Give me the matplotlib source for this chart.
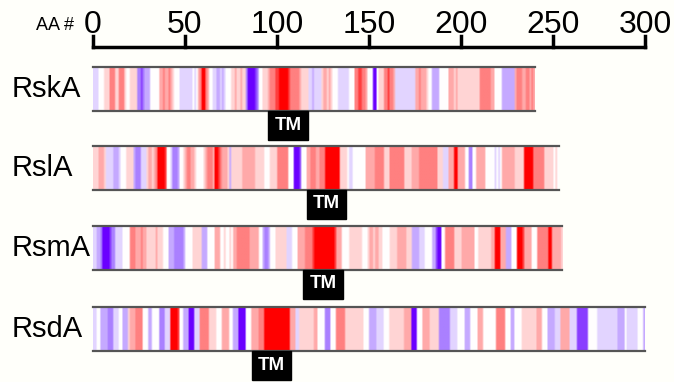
import numpy as np
import matplotlib.pyplot as plt
from matplotlib.colors import LinearSegmentedColormap

plt.rcParams['font.family'] = ['Liberation Sans', 'DejaVu Sans']

# per-residue hydropathy level, -5 (hydrophilic, purple) .. 5 (hydrophobic, red)
rska = [-1, -1, -1, 0, 0, 0, 1, 1, 1, 3, 3, 3, 1, 1, 3, 3, 3, 1, 0, 0,
        1, 1, 1, 1, -3, -3, -4, -3, -2, -2, -2, 0, 0, 0, 0, 0, 2, 2, 3, 2,
        2, 3, 2, 1, 0, 0, 0, -1, -1, -1, -1, -1, -1, -1, 0, -1, 0, 2, 3, 5,
        5, 3, 2, 0, 0, -1, -1, -2, -2, -1, -2, -1, 0, 0, 0, 1, 1, 2, 1, 1,
        2, 1, 1, -3, -5, -5, -5, -5, -4, -3, 0, 0, 1, 1, 1, 2, 3, 3, 3, 4,
        4, 5, 5, 5, 5, 5, 4, 3, 3, 3, 3, 3, 2, 1, 1, 1, 1, -1, -1, -2,
        -1, -1, -1, -1, 1, 2, 2, 1, 2, 1, 0, 0, 0, -1, -1, -1, -1, -1, -1, 0,
        0, 0, 3, 3, 4, 4, 3, 3, 2, 0, 0, 0, -5, -5, 0, 1, 1, 1, 3, 3,
        4, 3, 3, 2, -1, -1, -1, -1, -1, -1, -1, -1, -1, -1, -1, 2, 2, 3, 2, 2,
        2, 1, 0, 0, -2, -2, -2, -2, 0, 0, 0, 0, 0, 2, 2, 2, 1, 2, 1, 1,
        1, 1, 1, 1, 1, 1, 1, 1, 1, 1, 3, 3, 3, 3, 3, 3, 2, 2, 0, 0,
        0, 0, -2, -2, -2, -2, -2, -2, -2, 2, 3, 3, 3, 2, 2, 3, 3, 2, 3, 2]

rsla = [1, 1, 1, 2, 2, 2, 1, -1, -1, -1, -1, -2, -2, -2, -1, 0, 0, 0, 1, 1,
        1, 1, -2, -3, -3, -3, -1, -1, -1, 1, 2, 2, 1, 2, 3, 5, 5, 5, 5, 4,
        0, 0, -1, -3, -3, -3, -2, 0, 0, 1, 2, 3, 3, 2, 2, 1, 0, 0, 0, 0,
        1, 2, 3, 3, 3, 2, 5, 5, 4, 3, 2, 2, 2, 1, -2, 1, 1, 1, 1, 1,
        1, 2, 2, 2, 2, 2, 2, 2, 1, 1, 1, 1, 1, 0, 0, 0, 1, 1, 1, 1,
        3, 3, 3, 3, 3, 3, 0, 0, 0, -5, -5, -5, -4, 0, 0, 0, 2, 2, 3, 3,
        3, 2, 2, 3, 3, 3, 5, 5, 5, 5, 5, 5, 5, 5, 1, 1, 1, 1, 0, -1,
        -1, 0, 0, 0, 0, 0, 0, 0, 2, 2, 2, 2, 2, 3, 3, 3, 3, 3, 1, 1,
        1, 3, 3, 3, 3, 3, 3, 3, 3, 1, 1, 1, 1, 2, 2, 2, 2, 3, 3, 3,
        3, 3, 3, 3, 3, 3, 3, 1, 1, 1, -1, -1, -1, 2, 2, 2, 5, 5, 2, 2,
        2, 2, 0, 0, -3, -3, 0, 0, 2, 2, 2, 2, 2, 0, 0, 0, 0, 0, -1, 0,
        -1, 0, 2, 2, 2, 2, 2, 2, 2, 1, 1, 1, 1, 1, 5, 5, 5, 5, 5, 3,
        3, 3, 3, 3, 3, 1, 1, 1, 1, 1, 0, 1, 0]

rsma = [-1, -1, -2, -2, -3, -5, -5, -5, -5, -4, -3, -3, -1, -1, -1, -1, 0, 0, 0, 0,
        3, 3, 3, 2, 2, 2, 3, 2, 2, 1, 1, 1, 1, 1, 2, 1, 1, 1, 0, 0,
        0, -2, -2, -2, -3, -3, -3, -3, -3, -2, 0, 0, 0, 0, 1, 1, 1, 1, 1, -2,
        -2, -2, 0, 0, 0, 0, 2, 2, 2, 0, 0, 1, 0, 0, 1, 0, 2, 2, 3, 3,
        3, 3, 3, 3, 3, 2, 2, 2, 2, 2, 0, 0, -2, -3, -3, -2, 0, 0, 0, 1,
        1, 1, 1, 1, 1, -1, -1, -1, 0, 0, 0, 2, 2, 2, 2, 3, 3, 3, 3, 4,
        5, 5, 5, 5, 5, 5, 5, 5, 5, 5, 5, 4, 2, 2, 2, 0, 0, 0, 0, 1,
        1, 1, 1, 1, 1, 1, 0, 0, 0, 1, 2, 2, 1, 2, 2, 1, 1, 0, 0, 0,
        0, 1, 1, 1, 1, 2, 2, 2, 2, 2, 1, 1, 1, -2, -2, -2, -2, -1, -1, -1,
        0, 0, 0, 0, -2, -2, -4, -5, -5, 0, 0, 3, 3, 3, 3, 3, 1, 1, 1, 1,
        2, 2, 2, 2, 2, 2, 2, 0, 0, 1, 1, 1, 1, 1, 1, 1, 2, 2, 5, 5,
        5, 2, 2, 2, -2, -2, -2, 0, 0, 0, 5, 5, 5, 4, 2, 2, 2, 2, 0, 0,
        0, 3, 3, 3, 3, 3, 3, 5, 5, 2, 2, 2, 2, 2, 1]

rsda = [-1, -1, 0, 0, -2, -2, -2, -2, -3, -3, -3, -1, -1, -1, 0, 0, -2, -2, -2, 1,
        2, 2, 2, 3, 3, 3, 3, 0, 0, 0, -2, -2, 0, 0, 0, 0, -3, -3, -3, -1,
        -1, -1, 5, 5, 5, 5, 4, 0, 0, -2, -2, -2, -5, -5, -5, -1, -1, -1, 3, 3,
        3, 3, 3, 1, 1, 1, 1, 0, 0, 0, 2, 2, 2, 2, 0, 0, -2, -2, -2, -5,
        -5, -5, -5, 0, 0, 0, 2, 2, 2, 2, 3, 3, 3, 5, 5, 5, 5, 5, 5, 5,
        5, 5, 5, 5, 5, 5, 5, 2, 2, 2, -1, -1, 1, 1, 1, 1, 1, 1, 1, 1,
        2, 2, 0, 0, 0, 0, -3, -3, -3, 0, 0, 0, 3, 3, 3, 3, 3, 1, 1, 1,
        1, 1, 1, 1, 1, 1, 1, 0, 0, 0, -2, -2, -2, -2, -1, -1, -1, -1, 0, 0,
        0, 1, 1, 1, 1, 1, 1, 1, 1, 2, 2, 2, 2, -5, -5, -5, 0, 0, 0, 2,
        2, 2, 2, 1, 1, 1, 1, 1, -3, -3, -3, -3, -3, -3, -1, -1, -1, -1, 0, 0,
        0, 0, -2, -2, -2, 0, 0, 0, 0, 2, 2, 2, 0, 0, 0, 0, 0, 0, 0, 3,
        3, 3, 3, 3, 0, 0, 0, -2, -2, 0, 0, 0, 0, 1, 1, 1, 1, 1, 1, 1,
        1, 2, 2, 2, 0, 0, 0, -2, -2, -2, -2, -1, -1, -1, 2, 2, 2, 2, 2, -1,
        -1, -1, -1, -4, -4, -4, -4, -4, -4, 0, 0, 0, 0, 0, -1, -1, -1, -1, -1, -1,
        -1, -1, -1, -1, -1, -2, -2, -2, -2, 0, -1, -1, -1, -1, -1, -1, 0, 0, 0, -2]

names = ['RskA', 'RslA', 'RsmA', 'RsdA']
profiles = [rska, rsla, rsma, rsda]
tm_centers = [106, 127, 125, 97]
ticks = [0, 50, 100, 150, 200, 250, 300]

# pixel layout (y measured from top)
px = 1.84
x0 = 93
strip_tops = [67, 146, 226, 307]
strip_h = 44

cmap = LinearSegmentedColormap.from_list(
    'hyd', [(0.0, '#6a00ff'), (0.2, '#aa80ff'), (0.5, '#ffffff'),
            (0.8, '#ff8080'), (1.0, '#ff0000')])
bg = '#fffffa'

fig = plt.figure(figsize=(6.74, 3.82), dpi=100)
fig.patch.set_facecolor(bg)
ax = fig.add_axes([0, 0, 1, 1])
ax.set_facecolor(bg)

for name, prof, tm, top in zip(names, profiles, tm_centers, strip_tops):
    row = np.array(prof, dtype=float) / 5.0
    vals = np.vstack([row, row, row])
    n = len(prof)
    bot = top + strip_h
    ax.imshow(vals, cmap=cmap, vmin=-1, vmax=1, aspect='auto',
              interpolation='bilinear', interpolation_stage='rgba',
              extent=(0, n, bot, top))
    ax.plot([0, n], [top, top], color='#555555', lw=1.6)
    ax.plot([0, n], [bot, bot], color='#555555', lw=1.6)
    ax.text((12 - x0) / px, top + strip_h / 2, name, fontsize=21,
            ha='left', va='center')
    ax.text(tm, bot + 14, 'TM', fontsize=13.5, fontweight='bold', color='white',
            ha='center', va='center',
            bbox=dict(boxstyle='square,pad=0.32', fc='black', ec='black'))

# amino-acid ruler
ax.plot([0, 300], [47, 47], color='black', lw=2.5, solid_capstyle='projecting')
for t in ticks:
    ax.plot([t, t], [47, 36], color='black', lw=2.5)
    ax.text(t, 33, str(t), fontsize=23, ha='center', va='baseline')
ax.text((74 - x0) / px, 30, 'AA #', fontsize=13, ha='right', va='baseline')

ax.set_xlim(-x0 / px, (674 - x0) / px)
ax.set_ylim(382, 0)
ax.axis('off')

fig.savefig('out.png', dpi=100, facecolor=bg)
